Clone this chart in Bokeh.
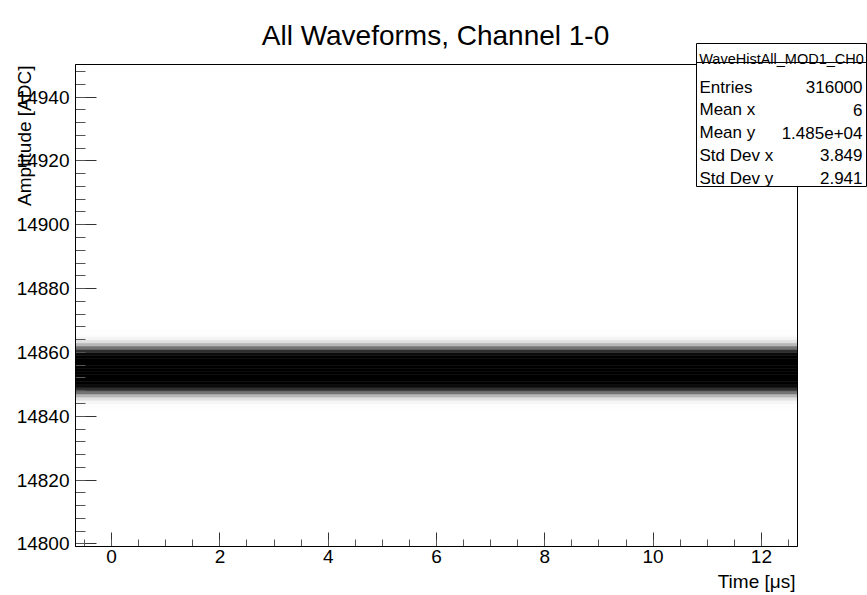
import numpy as np
from bokeh.plotting import figure
from bokeh.models import Range1d, FixedTicker, Label, BoxAnnotation, ColumnDataSource
from bokeh.embed import file_html
from bokeh.resources import INLINE

# ---------------- data ----------------
# amplitude code (lower edge of each 1-ADC bin) and estimated entries per code
amplitude_adc = [14842, 14843, 14844, 14845, 14846, 14847, 14848, 14849, 14850,
                 14851, 14852, 14853, 14854, 14855, 14856, 14857, 14858, 14859,
                 14860, 14861, 14862, 14863, 14864, 14865, 14866]
entries = [10, 40, 130, 400, 1060, 2520, 5350, 10100, 17000,
           25480, 34030, 40470, 42880, 40470, 34030, 25480, 17000, 10100,
           5350, 2520, 1060, 395, 135, 40, 10]
# sampled time window of the waveforms [us]
time_start = -0.667
time_end = 12.667
# visible amplitude window [ADC]
amp_low = 14799.2
amp_high = 14950.2

x_ticks = [0, 2, 4, 6, 8, 10, 12]
y_ticks = [14800, 14820, 14840, 14860, 14880, 14900, 14920, 14940]

title_text = "All Waveforms, Channel 1-0"
x_title = "Time [\u03bcs]"
y_title = "Amplitude [ADC]"

stats_title = "WaveHistAll_MOD1_CH0"
stats_names = ["Entries", "Mean x", "Mean y", "Std Dev x", "Std Dev y"]
stats_values = ["316000", "6", "1.485e+04", "3.849", "2.941"]

# ---------------- layout (canvas pixels) ----------------
FONT = "Liberation Sans"
W, H = 867, 595
FX0, FX1, FY0, FY1 = 75, 797, 64, 546   # axes box on the canvas (left, right, top, bottom)

# the plotting frame covers the whole canvas; the axes are pinned to the data box
xpp = (time_end - time_start) / (FX1 - FX0)
ypp = (amp_high - amp_low) / (FY1 - FY0)
x_range = Range1d(time_start - FX0 * xpp, time_end + (W - FX1) * xpp)
y_range = Range1d(amp_low - (H - FY1) * ypp, amp_high + FY0 * ypp)

p = figure(width=W, height=H, output_backend="svg", toolbar_location=None,
           x_range=x_range, y_range=y_range,
           min_border_left=0, min_border_right=0, min_border_top=0, min_border_bottom=0)
p.grid.visible = False
p.outline_line_color = None
p.background_fill_color = "white"
p.border_fill_color = "white"


def sy(canvas_y):
    return H - canvas_y


# band of waveform samples: darkness grows with the number of entries per code
cnt = np.array(entries, dtype=float)
dark = 1.0 - np.exp(-cnt / 3200.0)
grey = [int(round(255 * (1 - d))) for d in dark]
colors = ["#%02x%02x%02x" % (g, g, g) for g in grey]
src = ColumnDataSource(dict(
    left=[time_start] * len(amplitude_adc),
    right=[time_end] * len(amplitude_adc),
    bottom=amplitude_adc,
    top=[a + 1 for a in amplitude_adc],
    color=colors,
))
p.quad(left="left", right="right", bottom="bottom", top="top", source=src,
       fill_color="color", line_color="color", line_width=0.6)

# axes pinned to the data box
x_minor = list(np.arange(-0.5, 12.51, 0.5))
y_minor = list(np.arange(14800, 14950, 4))
p.xaxis.ticker = FixedTicker(ticks=x_ticks, minor_ticks=x_minor)
p.yaxis.ticker = FixedTicker(ticks=y_ticks, minor_ticks=y_minor)
p.xaxis.fixed_location = amp_low
p.yaxis.fixed_location = time_start
p.xaxis.bounds = (time_start, time_end)
p.yaxis.bounds = (amp_low, amp_high)
for ax, maj, mnr, so in ((p.xaxis, 14, 7, 3), (p.yaxis, 21, 10, 6)):
    ax.major_tick_in = maj
    ax.major_tick_out = 0
    ax.minor_tick_in = mnr
    ax.minor_tick_out = 0
    ax.axis_line_color = "#333333"
    ax.major_tick_line_color = "#333333"
    ax.minor_tick_line_color = "#555555"
    ax.major_label_text_font = FONT
    ax.major_label_text_font_size = "19px"
    ax.major_label_text_color = "black"
    ax.major_label_standoff = so

# frame outline (top/right), drawn under the stats box
p.add_layout(BoxAnnotation(left=time_start, right=time_end, bottom=amp_low, top=amp_high,
                           fill_alpha=0, line_color="black", line_alpha=1.0,
                           line_width=1, line_dash="solid", level="annotation"))

# titles
p.add_layout(Label(x=435, y=sy(35), x_units="screen", y_units="screen",
                   text=title_text, text_font=FONT, text_font_size="28px",
                   text_color="black", text_align="center", text_baseline="alphabetic"))
p.add_layout(Label(x=795, y=sy(581), x_units="screen", y_units="screen",
                   text=x_title, text_font=FONT, text_font_size="19px",
                   text_color="black", text_align="right", text_baseline="alphabetic"))
p.add_layout(Label(x=24, y=sy(65), x_units="screen", y_units="screen",
                   text=y_title, text_font=FONT, text_font_size="19px",
                   text_color="black", angle=np.pi / 2, text_align="right",
                   text_baseline="alphabetic"))

# stats box
bx_l, bx_r = 696, 866
p.add_layout(BoxAnnotation(left=bx_l, right=bx_r, bottom=sy(186), top=sy(43),
                           left_units="screen", right_units="screen",
                           bottom_units="screen", top_units="screen",
                           fill_color="white", fill_alpha=1.0,
                           line_color="black", line_alpha=1.0, line_width=1,
                           line_dash="solid", level="overlay"))
p.add_layout(BoxAnnotation(left=bx_l, right=bx_r, bottom=sy(62), top=sy(62),
                           left_units="screen", right_units="screen",
                           bottom_units="screen", top_units="screen",
                           fill_alpha=0, line_color="black", line_alpha=1.0, line_width=1,
                           line_dash="solid", level="overlay"))
p.add_layout(Label(x=(bx_l + bx_r) / 2, y=sy(58), x_units="screen", y_units="screen",
                   text=stats_title, text_font=FONT, text_font_size="14.5px",
                   text_color="black", text_align="center", text_baseline="alphabetic",
                   level="overlay"))
row_base = [86.5, 109.3, 132.0, 154.8, 177.6]
for name, val, yb in zip(stats_names, stats_values, row_base):
    p.add_layout(Label(x=699, y=sy(yb), x_units="screen", y_units="screen",
                       text=name, text_font=FONT, text_font_size="17px",
                       text_color="black", text_align="left", text_baseline="alphabetic",
                       level="overlay"))
    p.add_layout(Label(x=862, y=sy(yb), x_units="screen", y_units="screen",
                       text=val, text_font=FONT, text_font_size="17px",
                       text_color="black", text_align="right", text_baseline="alphabetic",
                       level="overlay"))

open("out.html", "w").write(file_html(p, INLINE))
